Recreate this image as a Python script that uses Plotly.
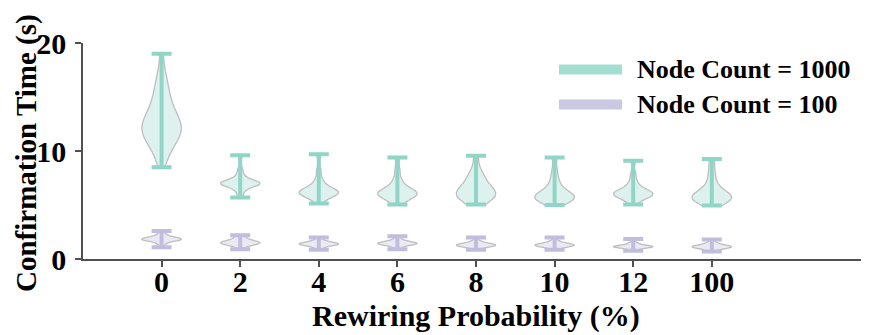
import plotly.graph_objects as go

# ---- data ----
categories = ["0", "2", "4", "6", "8", "10", "12", "100"]

n1000_samples = [
    [8.5, 9.3, 9.8, 10.2, 10.5, 10.8, 11.0, 11.2, 11.4, 11.5, 11.7, 11.8, 11.9, 12.0, 12.1,
     12.2, 12.3, 12.5, 12.6, 12.8, 13.0, 13.2, 13.4, 13.6, 13.9, 14.2, 14.5, 14.8, 15.2,
     15.9, 16.2, 16.5, 17.3, 19.0],
    [5.7, 6.2, 6.5, 6.7, 6.8, 6.9, 6.95, 7.0, 7.0, 7.05, 7.1, 7.2, 7.3, 7.5, 7.8, 8.3, 9.6],
    [5.15, 5.6, 5.8, 5.9, 6.0, 6.1, 6.1, 6.2, 6.2, 6.3, 6.4, 6.5, 6.7, 7.0, 7.4, 8.2, 9.7],
    [5.05, 5.4, 5.6, 5.8, 5.9, 6.0, 6.0, 6.1, 6.1, 6.2, 6.3, 6.5, 6.7, 7.0, 7.5, 8.3, 9.4],
    [5.05, 5.4, 5.6, 5.8, 5.9, 6.0, 6.0, 6.1, 6.2, 6.3, 6.5, 6.8, 7.3, 7.5, 7.6, 8.3, 9.55],
    [5.0, 5.3, 5.5, 5.6, 5.6, 5.7, 5.7, 5.8, 5.9, 6.0, 6.2, 6.5, 6.9, 7.4, 8.2, 9.4],
    [5.05, 5.5, 5.7, 5.8, 5.9, 6.0, 6.0, 6.1, 6.1, 6.2, 6.3, 6.5, 6.8, 7.2, 7.9, 9.1],
    [4.95, 5.2, 5.4, 5.5, 5.6, 5.7, 5.7, 5.8, 5.9, 6.0, 6.2, 6.5, 6.9, 7.5, 8.3, 9.25],
]

n100_samples = [
    [1.08, 1.4, 1.6, 1.7, 1.75, 1.8, 1.8, 1.85, 1.9, 1.95, 2.0, 2.1, 2.3, 2.6],
    [0.9, 1.2, 1.3, 1.4, 1.45, 1.5, 1.5, 1.55, 1.6, 1.7, 1.8, 2.0, 2.2],
    [0.85, 1.1, 1.25, 1.3, 1.35, 1.4, 1.4, 1.45, 1.5, 1.6, 1.7, 2.0],
    [0.9, 1.15, 1.3, 1.35, 1.4, 1.45, 1.45, 1.5, 1.55, 1.65, 1.8, 2.1],
    [0.85, 1.05, 1.15, 1.2, 1.25, 1.3, 1.3, 1.35, 1.4, 1.5, 1.65, 2.0],
    [0.85, 1.05, 1.15, 1.2, 1.25, 1.3, 1.3, 1.35, 1.4, 1.5, 1.65, 2.0],
    [0.77, 0.95, 1.05, 1.1, 1.12, 1.15, 1.15, 1.2, 1.25, 1.35, 1.5, 1.85],
    [0.7, 0.9, 1.0, 1.05, 1.1, 1.15, 1.15, 1.2, 1.25, 1.35, 1.5, 1.8],
]

series_names = ["Node Count = 1000", "Node Count = 100"]
x_title = "Rewiring Probability (%)"
y_title = "Confirmation Time (s)"

# ---- styles ----
# the page body adds an 8px margin, so the figure is 8px smaller on each side
OFF = 8
W, H = 869 - OFF, 335 - OFF
L, R, T, B = 83 - OFF, 0, 43 - OFF, 76
FONT = "Liberation Serif"
teal_cap = "rgb(145,213,198)"
teal_fill = "rgba(141,211,199,0.3)"
teal_leg = "rgb(164,221,210)"
lav_cap = "rgb(193,189,221)"
lav_fill = "rgba(190,186,218,0.3)"
lav_leg = "rgb(203,200,227)"
edge = "rgb(190,190,190)"

fig = go.Figure()

def add_series(samples, fill):
    # one violin trace per category so each is normalised to the same max width
    for i, s in enumerate(samples):
        fig.add_trace(go.Violin(
            x=[i] * len(s), y=s, width=0.5, spanmode="hard", scalemode="width",
            fillcolor=fill, line=dict(color=edge, width=1.3),
            points=False, box_visible=False, meanline_visible=False,
            hoverinfo="skip", showlegend=False))
    return [min(s) for s in samples], [max(s) for s in samples]

def add_caps(mins, maxs, cap):
    fig.add_trace(go.Scatter(
        x=list(range(len(mins))),
        y=[(a + b) / 2 for a, b in zip(mins, maxs)],
        mode="markers", marker=dict(size=0.1, color=cap, opacity=0),
        error_y=dict(type="data", symmetric=True,
                     array=[(b - a) / 2 for a, b in zip(mins, maxs)],
                     color=cap, thickness=4, width=10),
        hoverinfo="skip", showlegend=False))

m1 = add_series(n1000_samples, teal_fill)
m2 = add_series(n100_samples, lav_fill)
add_caps(*m1, teal_cap)
add_caps(*m2, lav_cap)

axis_line = "rgb(80,80,80)"
fig.update_layout(
    width=W, height=H,
    margin=dict(l=L, r=R, t=T, b=B, autoexpand=False),
    paper_bgcolor="white", plot_bgcolor="white",
    violinmode="overlay",
    font=dict(family=FONT, size=26, color="black", weight=700),
    xaxis=dict(range=[-1, 9], tickmode="array", tickvals=list(range(len(categories))),
               ticktext=categories, showgrid=False, zeroline=False, automargin=False,
               showline=True, linecolor=axis_line, linewidth=1.5,
               ticks="outside", ticklen=6, tickwidth=1.5, tickcolor=axis_line,
               ticklabelstandoff=-11,
               tickfont=dict(family=FONT, size=30, weight=700)),
    yaxis=dict(range=[0, 20], tickvals=[0, 10, 20], showgrid=False, zeroline=False,
               automargin=False,
               showline=True, linecolor=axis_line, linewidth=1.5,
               ticks="outside", ticklen=6, tickwidth=1.5, tickcolor=axis_line,
               ticklabelstandoff=3,
               tickfont=dict(family=FONT, size=30, weight=700)),
)

pw, ph = W - L - R, H - T - B
def px2paper(x, y):
    """page pixel -> paper coordinates"""
    return (x - OFF - L) / pw, (H - B - (y - OFF)) / ph

# axis titles as annotations at measured page positions
yx, yy = px2paper(26, 153)
fig.add_annotation(xref="paper", yref="paper", x=yx, y=yy, text=y_title, showarrow=False,
                   textangle=-90, xanchor="center", yanchor="middle",
                   font=dict(family=FONT, size=29, weight=700, color="black"))
xx, xy = px2paper(476, 316)
fig.add_annotation(xref="paper", yref="paper", x=xx, y=xy, text=x_title, showarrow=False,
                   xanchor="center", yanchor="middle",
                   font=dict(family=FONT, size=30, weight=700, color="black"))

# legend drawn manually (long swatches)
for (ly, name, col) in [(69.5, series_names[0], teal_leg), (104.5, series_names[1], lav_leg)]:
    x0, y0 = px2paper(559, ly)
    x1, _ = px2paper(622, ly)
    fig.add_shape(type="line", xref="paper", yref="paper", x0=x0, x1=x1, y0=y0, y1=y0,
                  line=dict(color=col, width=10))
    tx, _ = px2paper(635, ly)
    fig.add_annotation(xref="paper", yref="paper", x=tx, y=y0, text=name, showarrow=False,
                       xanchor="left", yanchor="middle",
                       font=dict(family=FONT, size=26, weight=700, color="black"))

fig.write_html("out.html")
